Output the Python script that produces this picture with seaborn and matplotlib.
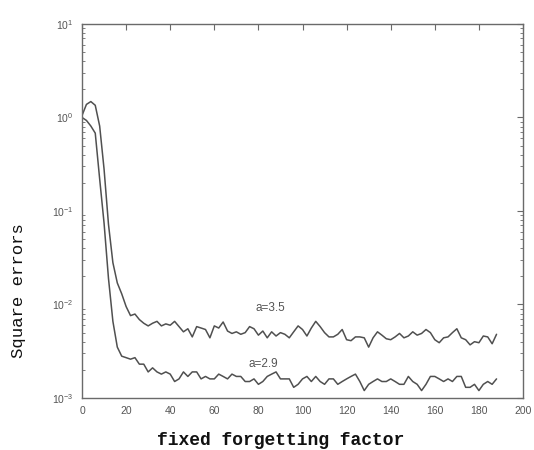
import numpy as np
import pandas as pd
import matplotlib
matplotlib.use("Agg")
import matplotlib.pyplot as plt
import seaborn as sns
from matplotlib.ticker import LogLocator, MultipleLocator, NullFormatter

# ---- data ----
x_vals = list(range(0, 190, 2))

err_a35 = [1.05, 1.38, 1.48, 1.35, 0.81, 0.28, 0.072, 0.028, 0.017, 0.013,
           0.0095, 0.0076, 0.0079, 0.0069, 0.0063, 0.0059, 0.0063, 0.0066, 0.0059, 0.0062,
           0.0060, 0.0066, 0.0058, 0.0051, 0.0055, 0.0045, 0.0058, 0.0056, 0.0054, 0.0044,
           0.0059, 0.0056, 0.0065, 0.0052, 0.0049, 0.0051, 0.0048, 0.0050, 0.0058, 0.0055,
           0.0047, 0.0052, 0.0044, 0.0051, 0.0046, 0.0050, 0.0048, 0.0044, 0.0051, 0.0059,
           0.0054, 0.0046, 0.0056, 0.0066, 0.0058, 0.0050, 0.0045, 0.0045, 0.0048, 0.0054,
           0.0042, 0.0041, 0.0045, 0.0045, 0.0044, 0.0035, 0.0044, 0.0051, 0.0047, 0.0043,
           0.0042, 0.0045, 0.0049, 0.0044, 0.0046, 0.0051, 0.0047, 0.0049, 0.0054, 0.0050,
           0.0042, 0.0039, 0.0044, 0.0045, 0.0050, 0.0055, 0.0044, 0.0042, 0.0037, 0.0040,
           0.0039, 0.0046, 0.0045, 0.0038, 0.0048]

err_a29 = [1.00, 0.93, 0.81, 0.68, 0.22, 0.074, 0.019, 0.0066, 0.0035, 0.0028,
           0.0027, 0.0026, 0.0027, 0.0023, 0.0023, 0.0019, 0.0021, 0.0019, 0.0018, 0.0019,
           0.0018, 0.0015, 0.0016, 0.0019, 0.0017, 0.0019, 0.0019, 0.0016, 0.0017, 0.0016,
           0.0016, 0.0018, 0.0017, 0.0016, 0.0018, 0.0017, 0.0017, 0.0015, 0.0015, 0.0016,
           0.0014, 0.0015, 0.0017, 0.0018, 0.0019, 0.0016, 0.0016, 0.0016, 0.0013, 0.0014,
           0.0016, 0.0017, 0.0015, 0.0017, 0.0015, 0.0014, 0.0016, 0.0016, 0.0014, 0.0015,
           0.0016, 0.0017, 0.0018, 0.0015, 0.0012, 0.0014, 0.0015, 0.0016, 0.0015, 0.0015,
           0.0016, 0.0015, 0.0014, 0.0014, 0.0017, 0.0015, 0.0014, 0.0012, 0.0014, 0.0017,
           0.0017, 0.0016, 0.0015, 0.0016, 0.0015, 0.0017, 0.0017, 0.0013, 0.0013, 0.0014,
           0.0012, 0.0014, 0.0015, 0.0014, 0.0016]

series_labels = ["a=3.5", "a=2.9"]
xlabel = "fixed forgetting factor"
ylabel = "Square errors"

df = pd.DataFrame({
    "x": x_vals * 2,
    "err": err_a35 + err_a29,
    "series": [series_labels[0]] * len(x_vals) + [series_labels[1]] * len(x_vals),
})

sns.set_style("white")
plt.rcParams["font.family"] = ["Liberation Sans", "DejaVu Sans"]
plt.rcParams["mathtext.default"] = "regular"

fig = plt.figure(figsize=(5.34, 4.5), dpi=100)
ax = fig.add_axes([0.1536, 0.1156, 0.8258, 0.8311])

line_col = "#505050"
sns.lineplot(data=df, x="x", y="err", hue="series", palette=[line_col, line_col],
             linewidth=1.1, legend=False, ax=ax, estimator=None)

ax.set_yscale("log")
ax.set_xlim(0, 200)
ax.set_ylim(1e-3, 1e1)
ax.xaxis.set_major_locator(MultipleLocator(20))
ax.yaxis.set_major_locator(LogLocator(base=10, numticks=10))
ax.yaxis.set_minor_locator(LogLocator(base=10, subs=np.arange(2, 10), numticks=20))
ax.yaxis.set_minor_formatter(NullFormatter())

spine_col = "#6a6a6a"
for s in ax.spines.values():
    s.set_visible(True)
    s.set_color(spine_col)
    s.set_linewidth(1.0)

ax.tick_params(axis="both", which="major", direction="in", length=4, width=0.8,
               color=spine_col, labelcolor="#555555", labelsize=7.5,
               top=True, right=True, pad=6)
ax.tick_params(axis="y", which="minor", direction="in", length=2.5, width=0.6,
               color=spine_col, left=True, right=True)

ax.set_xlabel(xlabel, family=["Liberation Mono", "DejaVu Sans Mono"], fontweight="bold",
              fontsize=13, color="#111111")
ax.set_ylabel(ylabel, family=["Liberation Mono", "DejaVu Sans Mono"],
              fontsize=12.5, color="#111111")
ax.xaxis.set_label_coords(0.451, -0.092)
ax.yaxis.set_label_coords(-0.128, 0.286)

ax.text(85.3, 0.0091, series_labels[0], fontsize=8.5, color="#555555",
        ha="center", va="center")
ax.text(82, 0.0023, series_labels[1], fontsize=8.5, color="#555555",
        ha="center", va="center")

fig.savefig("out.png", dpi=100)
